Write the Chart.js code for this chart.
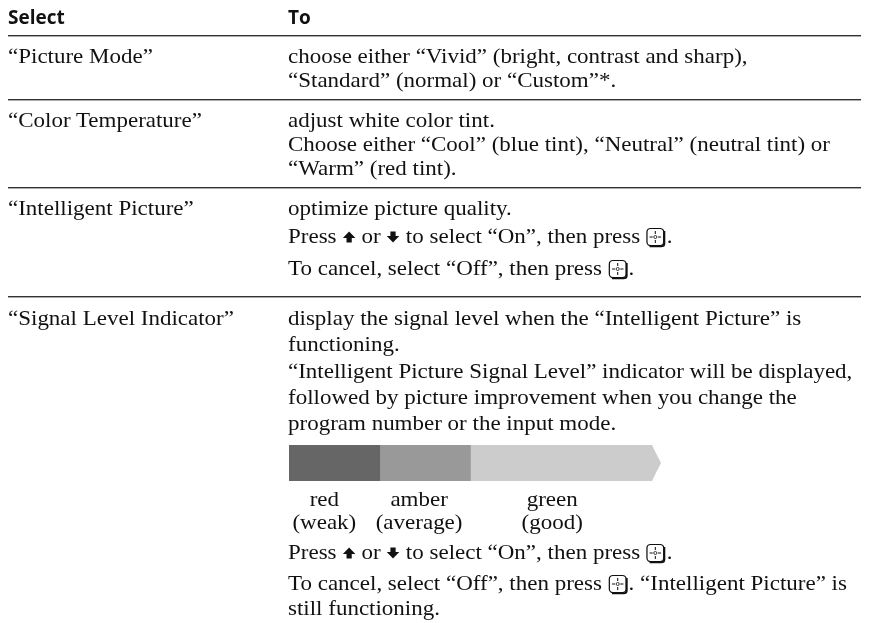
<!DOCTYPE html>
<html>
<head>
<meta charset="utf-8">
<title>Signal Level Indicator</title>
<style>
    html, body { margin: 0; padding: 0; background: #fff; }
    #page { position: relative; width: 869px; height: 623px; overflow: hidden; font-family: "Liberation Serif", serif; color: #111; }
    #grafica { position: absolute; left: 0; top: 0; }
    .linea { position: absolute; white-space: nowrap; font-size: 22px; line-height: 26px; transform: scaleX(1.045); transform-origin: left center; }
    .cabecera { font-family: "Open Sans", sans-serif; font-weight: 700; font-size: 19px; transform: none; }
    .regla { position: absolute; left: 8px; width: 853px; height: 1px; background: #333; border-bottom: 1px solid #aaa; }
    svg { vertical-align: 0; }
</style>
</head>
<body>
<div id="page">
    <canvas id="grafica" width="869" height="623"></canvas>
</div>
<script src="https://cdn.jsdelivr.net/npm/chart.js@4/dist/chart.umd.min.js"></script>
<script>
const categories = ["Signal level"];
const seriesNames = ["red", "amber", "green"];
const seriesGrades = ["(weak)", "(average)", "(good)"];
const redValues = [1];
const amberValues = [1];
const greenValues = [2];
const axisMax = 4.1;

const coloresNivel = ["#666666", "#999999", "#cccccc"];
const desplazamientoEtiqueta = [-10, -6, -9];

const arriba = '<svg width="13" height="12" viewBox="0 0 13 12"><path d="M6.5 .5 L12.5 7 H9 V11.5 H4 V7 H.5 Z" fill="#111"/></svg>';
const abajo = '<svg width="13" height="12" viewBox="0 0 13 12"><path d="M6.5 11.5 L12.5 5 H9 V.5 H4 V5 H.5 Z" fill="#111"/></svg>';
const boton = '<svg width="20" height="21" viewBox="0 0 20 21" style="vertical-align:-5px"><rect x="1.5" y="1.5" width="16" height="17" rx="3.5" fill="#fff" stroke="#111" stroke-width="1.2"/><path d="M18.2 4 V16.5 Q18.2 19.5 15 19.5 H4" fill="none" stroke="#111" stroke-width="1.7"/><circle cx="9.5" cy="10" r="1.5" fill="none" stroke="#111" stroke-width=".8"/><path d="M9.5 4 V7 M9.5 13 V16 M4 10 H7 M12 10 H15" stroke="#111" stroke-width="1"/></svg>';

// columna, linea base, texto
const lineas = [
    [8, 24, "Select", "cabecera"],
    [288, 24, "To", "cabecera"],
    [8, 63, "“Picture Mode”"],
    [288, 63, "choose either “Vivid” (bright, contrast and sharp),"],
    [288, 87, "“Standard” (normal) or “Custom”*."],
    [8, 127, "“Color Temperature”"],
    [288, 127, "adjust white color tint."],
    [288, 151, "Choose either “Cool” (blue tint), “Neutral” (neutral tint) or"],
    [288, 175, "“Warm” (red tint)."],
    [8, 215, "“Intelligent Picture”"],
    [288, 215, "optimize picture quality."],
    [288, 243, "Press " + arriba + " or " + abajo + " to select “On”, then press " + boton + "."],
    [288, 275, "To cancel, select “Off”, then press " + boton + "."],
    [8, 325, "“Signal Level Indicator”"],
    [288, 325, "display the signal level when the “Intelligent Picture” is"],
    [288, 351, "functioning."],
    [288, 378, "“Intelligent Picture Signal Level” indicator will be displayed,"],
    [288, 404, "followed by picture improvement when you change the"],
    [288, 430, "program number or the input mode."],
    [288, 559, "Press " + arriba + " or " + abajo + " to select “On”, then press " + boton + "."],
    [288, 590, "To cancel, select “Off”, then press " + boton + ". “Intelligent Picture” is"],
    [288, 615, "still functioning."]
];
const reglas = [35, 99, 187, 296];

const page = document.getElementById("page");

lineas.forEach(([x, base, texto, clase]) => {
    const div = document.createElement("div");
    div.className = "linea" + (clase ? " " + clase : "");
    div.style.left = x + "px";
    div.style.top = (base - 20) + "px";
    div.innerHTML = texto;
    page.appendChild(div);
});

reglas.forEach((y) => {
    const div = document.createElement("div");
    div.className = "regla";
    div.style.top = y + "px";
    page.appendChild(div);
});

// punta de flecha y etiquetas debajo de cada tramo
const nivelesPlugin = {
    id: "niveles",
    afterDatasetsDraw(chart) {
        const ctx = chart.ctx;
        const xScale = chart.scales.x;
        const ultima = chart.getDatasetMeta(2).data[0];
        const mitad = ultima.height / 2;

        ctx.save();
        ctx.fillStyle = coloresNivel[2];
        ctx.beginPath();
        ctx.moveTo(ultima.x, ultima.y - mitad);
        ctx.lineTo(xScale.getPixelForValue(axisMax), ultima.y);
        ctx.lineTo(ultima.x, ultima.y + mitad);
        ctx.closePath();
        ctx.fill();

        ctx.fillStyle = "#111";
        ctx.font = '22px "Liberation Serif", serif';
        ctx.textAlign = "center";
        ctx.textBaseline = "alphabetic";
        seriesNames.forEach((nombre, i) => {
            const barra = chart.getDatasetMeta(i).data[0];
            const centro = (barra.base + barra.x) / 2 + desplazamientoEtiqueta[i];
            ctx.save();
            ctx.translate(centro, 0);
            ctx.scale(1.045, 1);
            ctx.fillText(nombre, 0, ultima.y + mitad + 25);
            ctx.fillText(seriesGrades[i], 0, ultima.y + mitad + 48);
            ctx.restore();
        });
        ctx.restore();
    }
};

new Chart(document.getElementById("grafica"), {
    type: "bar",
    data: {
        labels: categories,
        datasets: [
            { label: seriesNames[0], data: redValues, backgroundColor: coloresNivel[0] },
            { label: seriesNames[1], data: amberValues, backgroundColor: coloresNivel[1] },
            { label: seriesNames[2], data: greenValues, backgroundColor: coloresNivel[2] }
        ]
    },
    options: {
        indexAxis: "y",
        responsive: false,
        animation: false,
        barPercentage: 1,
        categoryPercentage: 1,
        layout: { padding: { left: 289, right: 208, top: 445, bottom: 142 } },
        scales: {
            x: { stacked: true, display: false, min: 0, max: axisMax },
            y: { stacked: true, display: false }
        },
        plugins: {
            legend: { display: false },
            tooltip: { enabled: false }
        }
    },
    plugins: [nivelesPlugin]
});
</script>
</body>
</html>
